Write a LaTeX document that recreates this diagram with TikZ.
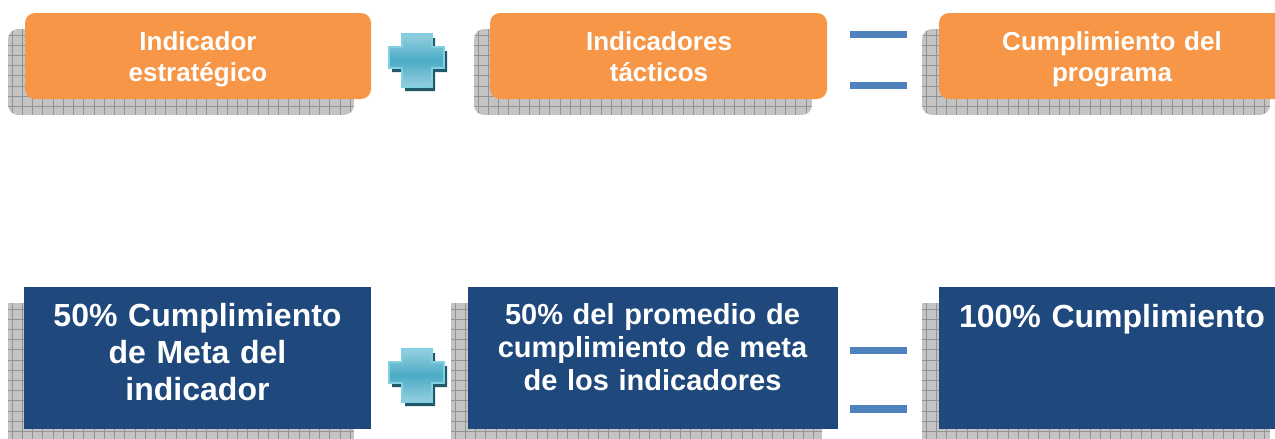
\documentclass[tikz,border=0pt]{standalone}
\usepackage{fontspec}
\setmainfont{Liberation Sans}
\definecolor{boxorange}{HTML}{F79646}
\definecolor{boxblue}{HTML}{1F497D}
\definecolor{eqblue}{HTML}{4F81BD}
\definecolor{crossmain}{HTML}{4BACC6}
\definecolor{crosslight}{HTML}{96CFDF}
\definecolor{crossdark}{HTML}{215968}
\definecolor{crossedge}{HTML}{80CFE2}
\definecolor{shfill}{HTML}{C4C4C4}
\definecolor{shline}{HTML}{939393}
\tikzset{
  boxbase/.style={inner sep=0pt, outer sep=0pt, anchor=north west},
  orangebox/.style={boxbase, fill=boxorange, rounded corners=10pt},
  bluebox/.style={boxbase, fill=boxblue},
  lbltop/.style={text=white, inner sep=0pt, anchor=base, align=center, text width=340pt,
     font=\fontsize{26}{31.2}\selectfont\bfseries},
  lblbig/.style={text=white, inner sep=0pt, anchor=base, align=center, text width=340pt,
     font=\fontsize{32}{36.7}\selectfont\bfseries},
  lblmid/.style={text=white, inner sep=0pt, anchor=base, align=center, text width=370pt,
     font=\fontsize{29}{33}\selectfont\bfseries},
  eqbar/.style={fill=eqblue},
  gridline/.style={draw=shline, line width=0.8pt},
}
\newcommand\gshadow[5]{%
  \begin{scope}
    \path[clip, rounded corners=#5] (#1,#2) rectangle (#3,#4);
    \fill[shfill] (#1,#2) rectangle (#3,#4);
    \foreach \gx in {0,1,...,36} \draw[gridline] ({#1+4+\gx*10.25},#2) -- ({#1+4+\gx*10.25},#4);
    \foreach \gy in {0,1,...,14} \draw[gridline] (#1,{#2+6+\gy*10.2}) -- (#3,{#2+6+\gy*10.2});
  \end{scope}}
\newcommand\plusmark[2]{%
  \begin{scope}[shift={(#1,#2)}]
    \fill[crossdark] (16,4) -- (46,4) -- (46,17) -- (58,17) -- (58,38) -- (46,38) -- (46,57) -- (16,57) -- (16,38) -- (3,38) -- (3,17) -- (16,17) -- cycle;
    \path[draw=crossedge, line width=1.2pt, top color=crosslight, bottom color=crosslight, middle color=crossmain]
      (13,0) -- (43,0) -- (43,13) -- (55,13) -- (55,34) -- (43,34) -- (43,53) -- (13,53) -- (13,34) -- (0,34) -- (0,13) -- (13,13) -- cycle;
  \end{scope}}
\begin{document}
\begin{tikzpicture}[x=1pt, y=-1pt]
\useasboundingbox (0,0) rectangle (1275,439);
\clip (0,0) rectangle (1275,439);
% ---------- top row ----------
\gshadow{8}{29}{354}{115}{10pt}
\gshadow{474}{29}{812}{115}{10pt}
\gshadow{922}{29}{1270}{115}{10pt}
\node[orangebox, minimum width=346pt, minimum height=86pt] (b1) at (25,13) {};
\node[orangebox, minimum width=337pt, minimum height=86pt] (b2) at (490,13) {};
\node[orangebox, minimum width=360pt, minimum height=86pt] (b3) at (939,13) {};
\node[lbltop] (t1) at (198,50) {Indicador\\estratégico};
\node[lbltop] (t2) at (659,50) {Indicadores\\tácticos};
\node[lbltop] (t3) at (1112,50) {Cumplimiento del\\programa};
\plusmark{389}{34}
\fill[eqbar] (850,31) rectangle (907,38);
\fill[eqbar] (850,82) rectangle (907,89);
% ---------- bottom row ----------
\gshadow{8}{303}{354}{439}{0pt}
\gshadow{451}{303}{822}{439}{0pt}
\gshadow{922}{303}{1270}{439}{0pt}
\node[bluebox, minimum width=347pt, minimum height=142pt] (b4) at (24,287) {};
\node[bluebox, minimum width=370pt, minimum height=142pt] (b5) at (468,287) {};
\node[bluebox, minimum width=360pt, minimum height=142pt] (b6) at (939,287) {};
\node[lblbig] (t4) at (197.5,326.7) {50\% Cumplimiento\\de Meta del\\indicador};
\node[lblmid] (t5) at (652.5,324.3) {50\% del promedio de\\cumplimiento de meta\\de los indicadores};
\node[lblbig] (t6) at (1112,327.7) {100\% Cumplimiento};
\plusmark{389}{349}
\fill[eqbar] (850,347) rectangle (907,354);
\fill[eqbar] (850,405) rectangle (907,413);
\end{tikzpicture}
\end{document}
